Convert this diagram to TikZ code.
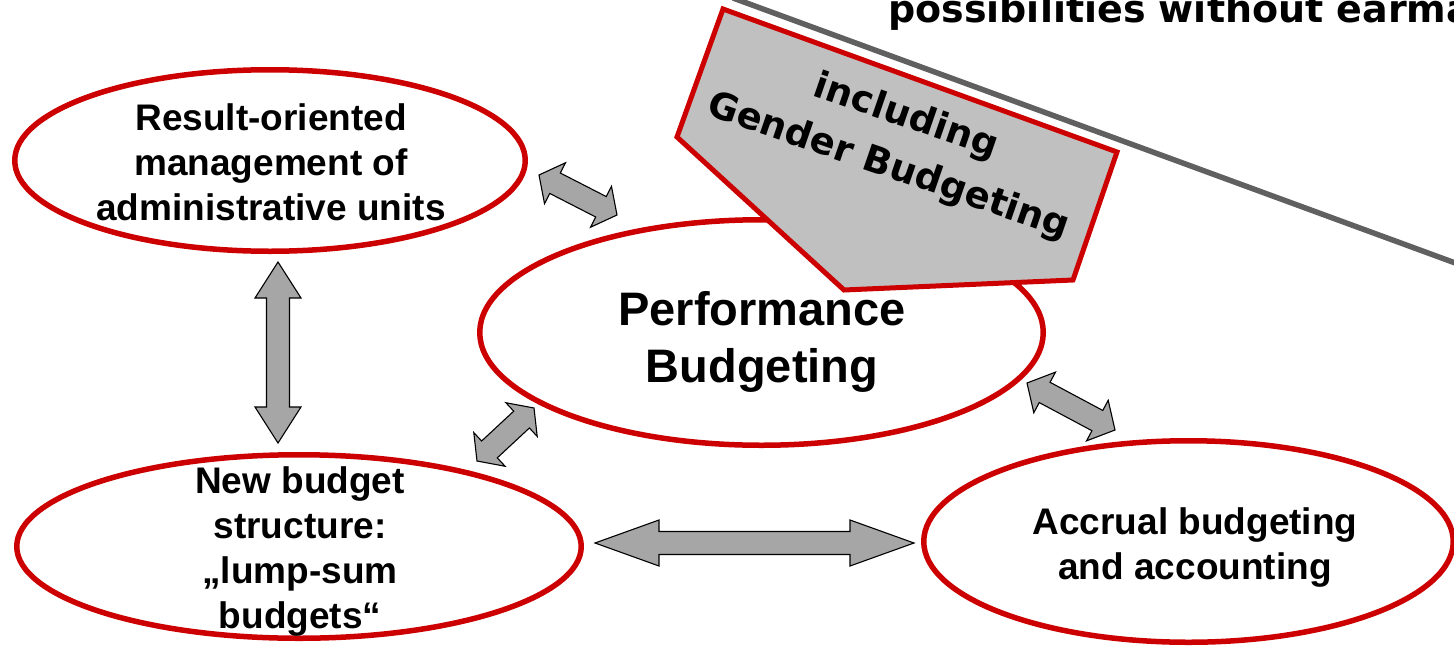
\documentclass[tikz,border=0pt]{standalone}
\usepackage{fontspec}
\setmainfont{Liberation Sans}
\newfontfamily\verdanafont{DejaVu Sans}
\usetikzlibrary{shapes.geometric,calc}

\definecolor{ringred}{RGB}{204,0,0}
\definecolor{arrowgray}{RGB}{166,166,166}
\definecolor{tabgray}{RGB}{192,192,192}
\definecolor{linegray}{RGB}{96,96,96}

% half widths of the block arrows: head and shaft
\newcommand\headhw{23pt}
\newcommand\shafthw{11.5pt}
% double-headed block arrow between two named tips, #3 = head length
\newcommand\blockarrow[3]{%
  \draw[blockarrow]
    (#1)
    -- ($(#1)!#3!(#2)!\headhw!90:(#2)$)
    -- ($(#1)!#3!(#2)!\shafthw!90:(#2)$)
    -- ($(#2)!#3!(#1)!\shafthw!-90:(#1)$)
    -- ($(#2)!#3!(#1)!\headhw!-90:(#1)$)
    -- (#2)
    -- ($(#2)!#3!(#1)!\headhw!90:(#1)$)
    -- ($(#2)!#3!(#1)!\shafthw!90:(#1)$)
    -- ($(#1)!#3!(#2)!\shafthw!-90:(#2)$)
    -- ($(#1)!#3!(#2)!\headhw!-90:(#2)$)
    -- cycle;}

\begin{document}
\begin{tikzpicture}[x=1pt,y=-1pt,
  ring/.style={ellipse, draw=ringred, line width=5.5pt, fill=white, inner sep=0pt},
  boxtext/.style={font=\bfseries\fontsize{37}{45}\selectfont, align=center, inner sep=0pt},
  bigtext/.style={font=\bfseries\fontsize{47}{57}\selectfont, align=center, inner sep=0pt},
  blockarrow/.style={draw=black, line width=1.1pt, fill=arrowgray, line join=miter},
  tab/.style={draw=ringred, line width=5pt, fill=tabgray, line join=miter},
  tabtext/.style={font=\verdanafont\bfseries\fontsize{37}{53}\selectfont, align=center, inner sep=0pt},
]
\useasboundingbox (0,0) rectangle (1454,648);
\clip (0,0) rectangle (1454,648);

% diagonal rule and the heading above it
\draw[linegray, line width=5.5pt] (733,-2) -- (1458,264);
\node[anchor=base west, inner sep=0pt,
      font=\verdanafont\bfseries\fontsize{38}{40}\selectfont] (heading) at (888,22)
  {possibilities without earma};

% the four rings
\node[ring, minimum width=510.5pt, minimum height=181.5pt] (result) at (270,160.5) {};
\node[ring, minimum width=563.5pt, minimum height=225.5pt] (perf) at (761.5,332.5) {};
\node[ring, minimum width=564.5pt, minimum height=183.5pt] (newbudget) at (299,546.5) {};
\node[ring, minimum width=529.5pt, minimum height=201.5pt] (accrual) at (1188.5,541.5) {};

% pentagon tab on top of the central ring
\draw[tab] (723,9) -- (1117,152) -- (1073,280) -- (844,290) -- (677,137) -- cycle;
\node[tabtext, rotate=-19] (gender) at (897,142) {including\\Gender Budgeting};

% ring labels
\node[boxtext] (resultlbl) at (271,162)
  {Result-oriented\\management of\\administrative units};
\node[bigtext] (perflbl) at (762,342) {Performance\\Budgeting};
\node[boxtext] (newlbl) at (300,552)
  {New budget\\structure:\\„lump-sum\\budgets“};
\node[boxtext] (accruallbl) at (1195,548) {Accrual budgeting\\and accounting};

% tips of the block arrows
\coordinate (a1s) at (539,175);  \coordinate (a1e) at (617,215);
\coordinate (a2s) at (278,262);  \coordinate (a2e) at (278,443);
\coordinate (a3s) at (534,408);  \coordinate (a3e) at (477,461);
\coordinate (a4s) at (595,543);  \coordinate (a4e) at (914,543);
\coordinate (a5s) at (1027,383); \coordinate (a5e) at (1115,430);

\blockarrow{a1s}{a1e}{18pt}
\blockarrow{a2s}{a2e}{36pt}
\blockarrow{a3s}{a3e}{17pt}
\blockarrow{a4s}{a4e}{64pt}
\blockarrow{a5s}{a5e}{20pt}
\end{tikzpicture}
\end{document}
